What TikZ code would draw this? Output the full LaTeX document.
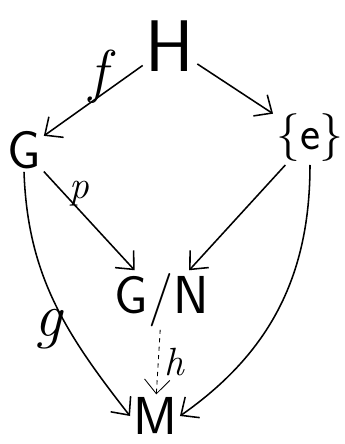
\documentclass[tikz,border=0pt]{standalone}
\usetikzlibrary{arrows.meta}

\tikzset{
	obj/.style={font=\fontsize{38}{42}\selectfont\sffamily, inner sep=2pt},
	pfeil/.style={->, line width=1.1pt},
	marke/.style={inner sep=2pt}
}

\begin{document}
\begin{tikzpicture}[>={Straight Barb[length=10pt,width=18pt]}]
	\useasboundingbox (0,0) rectangle (8.625,-11.1);

	\node[obj, font=\fontsize{52}{56}\selectfont\sffamily] (H) at (4.25,-1.15) {H};
	\node[obj] (G) at (0.6,-3.75) {G};
	\node[obj, font=\fontsize{34}{40}\selectfont\sffamily] (E) at (7.75,-3.45) {\{e\}};
	\node[obj] (GN) at (4.05,-7.5) {G/N};
	\node[obj] (M) at (3.875,-10.4) {M};

	\draw[pfeil] (H) -- (G)
		node[marke, pos=0.45, above, yshift=-7pt, font=\fontsize{42}{46}\selectfont\itshape] (f) {f};
	\draw[pfeil] (H) -- (E);
	\draw[pfeil] (G) -- (GN)
		node[marke, pos=0.3, above right, xshift=-4pt, yshift=-6pt, font=\fontsize{28}{32}\selectfont\itshape] (p) {p};
	\draw[pfeil] (E) -- (GN);
	\draw[pfeil] (G.south) to[out=-88,in=128]
		node[marke, pos=0.62, left=2pt, font=\fontsize{44}{48}\selectfont\itshape] (g) {g} (M.west);
	\draw[pfeil] (E.south) to[out=-90,in=35] (M.east);
	\draw[pfeil, dashed, line width=0.6pt] (GN) -- (M)
		node[marke, midway, right=2pt, font=\fontsize{28}{32}\selectfont\itshape] (h) {h};
\end{tikzpicture}
\end{document}
